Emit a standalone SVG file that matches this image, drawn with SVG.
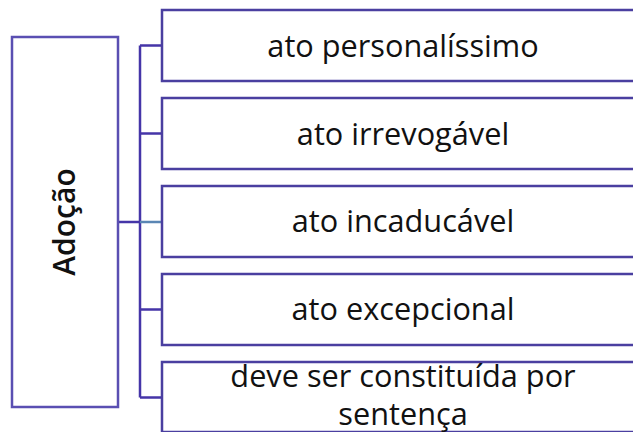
<svg xmlns="http://www.w3.org/2000/svg" width="633" height="432" viewBox="0 0 633 432">
<style>
.box{fill:#fff;stroke:#4a3fa0;stroke-width:2.5}
.root{fill:#fff;stroke:#5a4fb2;stroke-width:2.5}
.t{font-family:"Open Sans","Noto Sans",sans-serif;font-size:30.7px;fill:#111;text-anchor:middle}
.rt{font-family:"Open Sans","Noto Sans",sans-serif;font-size:30px;font-weight:600;fill:#111;text-anchor:middle}
.c{fill:none;stroke:#4535a8;stroke-width:2.5}
</style>
<rect width="633" height="432" fill="#fff"/>
<g id="connectors">
<path class="c" d="M140 45.5V397.5M140 45.5H162M140 133.5H162M140 309.5H162M140 397.5H162M118 222H140"/>
<path d="M140 222H162" fill="none" stroke="#5a86b4" stroke-width="2.5"/>
</g>
<g id="adocao">
<rect class="root" x="12" y="37" width="106" height="370"/>
<text class="rt" transform="translate(75 222) rotate(-90)">Adoção</text>
</g>
<g id="n1">
<rect class="box" x="162" y="10" width="482" height="71"/>
<text class="t" x="403" y="57">ato personalíssimo</text>
</g>
<g id="n2">
<rect class="box" x="162" y="98" width="482" height="71"/>
<text class="t" x="403" y="145">ato irrevogável</text>
</g>
<g id="n3">
<rect class="box" x="162" y="186" width="482" height="71"/>
<text class="t" x="403" y="232">ato incaducável</text>
</g>
<g id="n4">
<rect class="box" x="162" y="274" width="482" height="71"/>
<text class="t" x="403" y="320">ato excepcional</text>
</g>
<g id="n5">
<rect class="box" x="162" y="362" width="482" height="70"/>
<text class="t" x="403" y="387">deve ser constituída por</text>
<text class="t" x="403" y="425">sentença</text>
</g>
</svg>
